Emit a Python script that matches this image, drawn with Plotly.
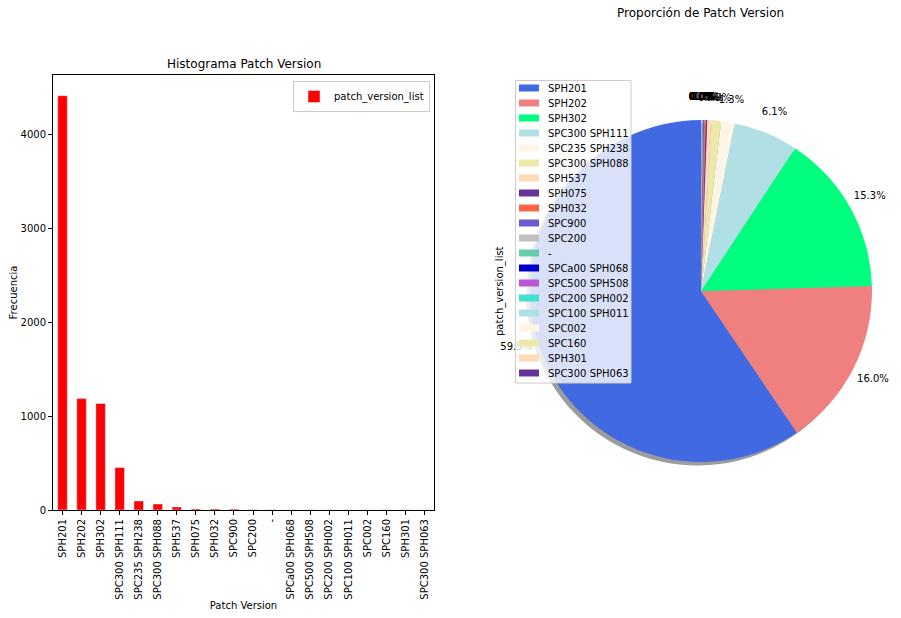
import math
import plotly.graph_objects as go

# Patch versions and their counts
patch_versions = ['SPH201', 'SPH202', 'SPH302', 'SPC300 SPH111', 'SPC235 SPH238',
                  'SPC300 SPH088', 'SPH537', 'SPH075', 'SPH032', 'SPC900', 'SPC200', '-',
                  'SPCa00 SPH068', 'SPC500 SPH508', 'SPC200 SPH002', 'SPC100 SPH011',
                  'SPC002', 'SPC160', 'SPH301', 'SPC300 SPH063']
counts = [4412, 1186, 1134, 452, 96, 64, 32, 11, 10, 9, 3, 2, 1, 1, 1, 1, 1, 1, 1, 1]

pie_colors = ['royalblue', 'lightcoral', 'springgreen', 'powderblue', 'oldlace',
              'palegoldenrod', 'peachpuff', 'rebeccapurple', 'tomato', 'slateblue',
              'silver', 'mediumaquamarine', 'mediumblue', 'mediumorchid', 'turquoise',
              'powderblue', 'oldlace', 'palegoldenrod', 'peachpuff', 'rebeccapurple']

W, H = 901, 618
FONT = 'DejaVu Sans'

# pie box in pixels
cx, cy, R = 701, 291, 171


def px(x):
    return x / W


def py(y):
    return 1 - y / H


total = sum(counts)

fig = go.Figure()

# Bar chart (left)
fig.add_trace(go.Bar(x=patch_versions, y=counts, marker_color='red', width=0.5,
                     name='patch_version_list', legend='legend2', showlegend=True,
                     xaxis='x', yaxis='y'))

# pie starts at 12 o'clock and runs counterclockwise (like matplotlib startangle=90)
rot = -360 * counts[0] / total

# Shadow of the pie, slightly offset down-left
off = 3.5
fig.add_trace(go.Pie(labels=patch_versions, values=counts, sort=False,
                     direction='counterclockwise', rotation=rot,
                     marker=dict(colors=['rgba(90,90,90,0.6)'] * len(counts)),
                     textinfo='none', hoverinfo='skip', showlegend=False,
                     domain=dict(x=[px(cx - R - off), px(cx + R - off)],
                                 y=[py(cy + R + off), py(cy - R + off)])))

# Pie chart (right)
fig.add_trace(go.Pie(labels=patch_versions, values=counts, sort=False,
                     direction='counterclockwise', rotation=rot,
                     marker=dict(colors=pie_colors),
                     textinfo='none', showlegend=False,
                     domain=dict(x=[px(cx - R), px(cx + R)], y=[py(cy + R), py(cy - R)])))

# Percent labels just outside the pie, at the middle angle of each slice
lab_x, lab_y, lab_t = [], [], []
cum = 0
for v in counts:
    th = math.radians(90 + 360 * (cum + v / 2) / total)
    lab_x.append(cx + 1.13 * R * math.cos(th))
    lab_y.append(cy - 1.13 * R * math.sin(th))
    lab_t.append('%.1f%%' % (100 * v / total))
    cum += v
fig.add_trace(go.Scatter(x=lab_x, y=lab_y, text=lab_t, mode='text', xaxis='x2', yaxis='y2',
                         textfont=dict(size=10, color='black', family=FONT),
                         showlegend=False, hoverinfo='skip', cliponaxis=False))

# Legend of the pie (matplotlib style, over the pie)
shapes = [dict(type='rect', xref='x2', yref='y2', x0=515.5, x1=631, y0=80.5, y1=383,
               fillcolor='rgba(255,255,255,0.8)', line=dict(color='#cccccc', width=1),
               layer='above')]
annotations = []
for i, (lab, col) in enumerate(zip(patch_versions, pie_colors)):
    yc = 88 + 15 * i
    shapes.append(dict(type='rect', xref='x2', yref='y2', x0=519, x1=539,
                       y0=yc - 3.5, y1=yc + 3.5, fillcolor=col, line=dict(width=0),
                       layer='above'))
    annotations.append(dict(text=lab, x=546, y=yc, xref='x2', yref='y2', showarrow=False,
                            xanchor='left', yanchor='middle', font=dict(size=10)))

annotations += [
    dict(text='Histograma Patch Version', x=px(243.5), y=py(64), xref='paper', yref='paper',
         showarrow=False, font=dict(size=12), xanchor='center', yanchor='middle'),
    dict(text='Proporción de Patch Version', x=px(700), y=py(13), xref='paper', yref='paper',
         showarrow=False, font=dict(size=12), xanchor='center', yanchor='middle'),
    dict(text='patch_version_list', x=px(500), y=py(291), xref='paper', yref='paper',
         showarrow=False, font=dict(size=10), textangle=-90, xanchor='center', yanchor='middle'),
]

fig.update_layout(
    width=W, height=H,
    margin=dict(l=0, r=0, t=0, b=0),
    paper_bgcolor='white', plot_bgcolor='rgba(0,0,0,0)',
    font=dict(family=FONT, size=10, color='black'),
    xaxis=dict(domain=[px(53), px(434)], range=[-0.5, 19.5], tickangle=-90, automargin=False,
               showline=True, linecolor='black', mirror=True, ticks='outside',
               ticklen=4, tickcolor='black', showgrid=False,
               title=dict(text='Patch Version', font=dict(size=10), standoff=3)),
    yaxis=dict(domain=[py(510), py(75)], range=[0, 4632], tickvals=[0, 1000, 2000, 3000, 4000],
               automargin=False,
               showline=True, linecolor='black', mirror=True, ticks='outside',
               ticklen=4, tickcolor='black', showgrid=False, zeroline=False,
               title=dict(text='Frecuencia', font=dict(size=10), standoff=1)),
    xaxis2=dict(domain=[0, 1], range=[0, W], visible=False, anchor='y2', fixedrange=True),
    yaxis2=dict(domain=[0, 1], range=[H, 0], visible=False, anchor='x2', fixedrange=True),
    legend2=dict(x=px(430), y=py(81), xanchor='right', yanchor='top',
                 bgcolor='rgba(255,255,255,0.8)', bordercolor='#cccccc', borderwidth=1,
                 font=dict(size=10)),
    shapes=shapes,
    annotations=annotations,
)

# the page body has an 8px default margin; drop it so the figure sits at the corner
fig.write_html('out.html', config={'displayModeBar': False},
               post_script="document.body.style.margin='0px';")
